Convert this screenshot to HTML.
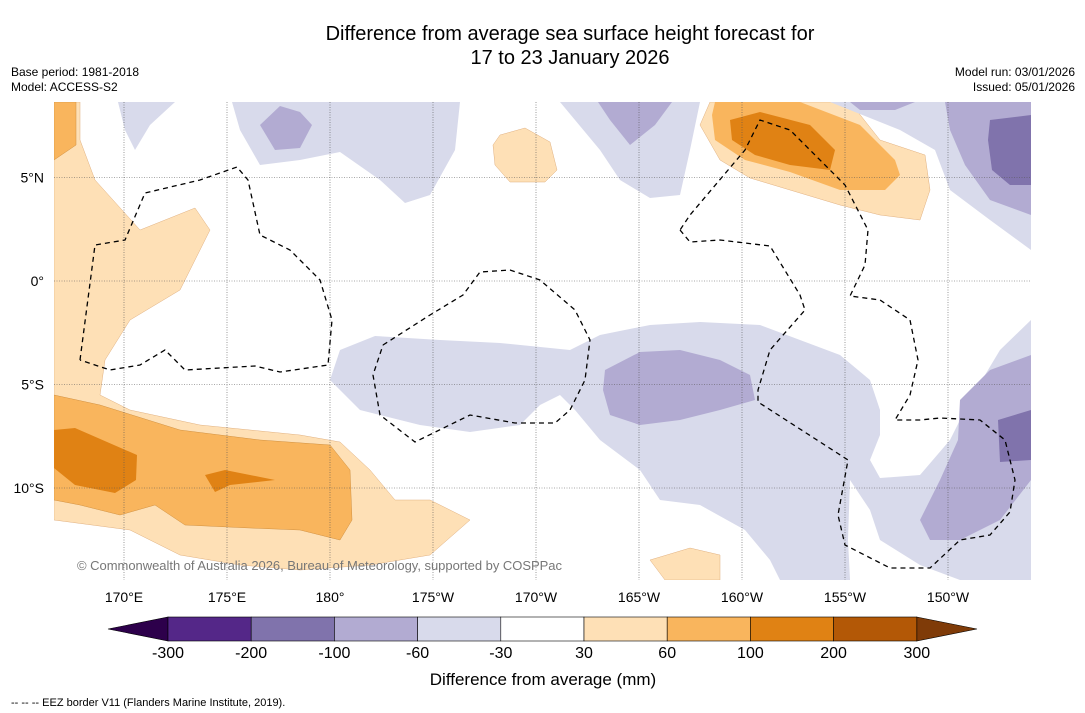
<!DOCTYPE html>
<html><head><meta charset="utf-8"><style>
body{margin:0;width:1085px;height:713px;background:#fff;font-family:"Liberation Sans","DejaVu Sans",sans-serif;overflow:hidden;position:relative}
.t{position:absolute;color:#000}
</style></head><body>
<div class="t" style="left:0;width:1140px;top:22px;text-align:center;font-size:20px;line-height:24px">Difference from average sea surface height forecast for<br>17 to 23 January 2026</div>
<div class="t" style="left:11px;top:65px;font-size:12px;line-height:15px">Base period: 1981-2018<br>Model: ACCESS-S2</div>
<div class="t" style="right:10px;top:65px;font-size:12px;line-height:15px;text-align:right">Model run: 03/01/2026<br>Issued: 05/01/2026</div>
<svg id="map" width="1085" height="713" style="position:absolute;left:0;top:0">
<defs><clipPath id="c"><rect x="54" y="102" width="977" height="478"/></clipPath></defs>
<g clip-path="url(#c)" stroke-width="0.5">
<polygon fill="#fee0b6" stroke="#e0b080" points="54,102 80,102 80,140 95,180 140,230 195,208 210,230 180,290 130,320 105,360 100,395 130,410 200,425 300,435 340,442 370,470 395,500 430,500 470,520 430,555 370,565 300,570 240,565 180,555 130,530 54,520"/>
<polygon fill="#f9b55d" stroke="#d09040" points="54,395 100,405 180,430 260,440 330,445 350,470 352,520 340,540 300,530 250,528 185,525 155,505 120,515 80,505 54,500"/>
<polygon fill="#f9b55d" stroke="#d09040" points="54,102 76,102 76,145 54,160"/>
<polygon fill="#e08214" points="54,430 75,428 137,455 136,480 115,493 75,485 54,468"/>
<polygon fill="#e08214" points="205,475 225,470 275,480 230,485 215,492"/>
<polygon fill="#d8daeb" points="118,102 175,102 150,125 135,150 125,130"/>
<polygon fill="#d8daeb" points="232,102 460,102 455,150 430,195 405,203 380,180 340,152 300,160 260,165 240,130"/>
<polygon fill="#b2abd2" points="260,125 280,106 300,112 312,125 300,148 275,150"/>
<polygon fill="#fee0b6" stroke="#e0b080" points="493,145 500,135 525,128 550,142 557,170 545,182 510,182 495,165"/>
<polygon fill="#d8daeb" points="560,102 700,102 690,150 680,195 650,198 620,180 600,150"/>
<polygon fill="#b2abd2" points="598,102 672,102 655,125 630,145 610,120"/>
<polygon fill="#fee0b6" stroke="#e0b080" points="710,102 850,102 880,140 925,155 930,190 920,220 880,215 840,205 790,190 750,178 720,160 700,125"/>
<polygon fill="#f9b55d" points="715,102 800,102 860,125 895,160 900,175 885,190 840,190 790,172 745,160 715,140 712,115"/>
<polygon fill="#e08214" points="730,120 760,112 810,125 835,150 830,170 790,165 755,155 732,140"/>
<polygon fill="#d8daeb" points="830,102 1031,102 1031,250 990,220 950,190 935,150 900,130 870,118"/>
<polygon fill="#b2abd2" points="945,102 1031,102 1031,215 990,200 965,165 950,130"/>
<polygon fill="#b2abd2" points="850,102 915,102 895,110 860,110"/>
<polygon fill="#8073ac" points="990,120 1031,115 1031,185 1010,185 992,170 988,140"/>
<polygon fill="#d8daeb" points="330,380 340,350 375,336 440,340 500,343 570,350 600,335 650,325 700,322 760,325 800,340 840,355 870,380 880,410 880,435 870,460 880,478 920,475 950,440 970,400 1000,350 1031,320 1031,580 960,580 920,565 880,540 870,510 850,480 848,540 850,580 800,580 780,560 770,520 740,500 710,480 700,455 740,445 780,450 790,470 800,540 810,580 780,580 770,560 745,530 700,505 660,500 640,470 600,440 575,410 560,395 540,405 520,425 470,432 420,425 360,410"/>
<polygon fill="#b2abd2" points="605,370 640,352 680,350 720,360 750,375 755,400 720,410 680,420 640,425 610,415 603,390"/>
<polygon fill="#b2abd2" points="920,520 940,480 958,440 960,400 990,370 1031,355 1031,480 1000,520 960,540 930,540"/>
<polygon fill="#8073ac" points="998,420 1031,410 1031,460 1000,462"/>
<polygon fill="#fee0b6" stroke="#e0b080" points="650,560 690,548 720,555 720,580 665,580"/>
</g>
<g id="grid" stroke="#555" stroke-width="0.6" stroke-dasharray="1,1.5" fill="none"></g>
<g fill="none" stroke="#000" stroke-width="1.3" stroke-dasharray="5,4" clip-path="url(#c)">
<polyline points="80,360 95,245 125,240 145,193 200,180 237,167 248,180 260,235 290,250 320,280 332,320 328,365 280,372 255,366 185,370 165,350 140,365 110,370 80,360"/>
<polyline points="383,345 430,315 463,295 480,272 510,270 540,280 575,310 590,340 585,380 570,410 555,423 515,423 470,415 415,442 380,415 373,375 383,345"/>
<polyline points="680,230 690,242 720,240 770,246 800,295 805,310 770,350 758,390 758,402 848,460 838,515 845,545 890,568 930,568 960,540 990,535 1010,512 1015,480 1005,440 980,420 940,418 920,420 895,420 910,395 918,360 910,320 880,300 850,296 865,265 868,230 845,185 790,130 760,120 745,150 690,215 680,230"/>
</g>
<text x="77" y="570" font-size="13" fill="#777" textLength="485">© Commonwealth of Australia 2026, Bureau of Meteorology, supported by COSPPac</text>
<g id="ticks" font-size="14" fill="#000"></g>
<g id="cbar"></g>
<text x="543" y="685" font-size="17" text-anchor="middle">Difference from average (mm)</text>
<text x="11" y="706" font-size="11">--  --  -- EEZ border V11 (Flanders Marine Institute, 2019).</text>
</svg>
<script>
const lonLabels=["170°E","175°E","180°","175°W","170°W","165°W","160°W","155°W","150°W"];
const lonVals=[170,175,180,185,190,195,200,205,210];
const latLabels=["5°N","0°","5°S","10°S"];
const latVals=[5,0,-5,-10];
const cbTicks=["-300","-200","-100","-60","-30","30","60","100","200","300"];
const cbColors=["#542788","#8073ac","#b2abd2","#d8daeb","#ffffff","#fee0b6","#f9b55d","#e08214","#b35806"];
const NS="http://www.w3.org/2000/svg";
const xLon=l=>124+(l-170)*20.6;
const yLat=a=>281-a*20.7;
const g=document.getElementById('grid'),tk=document.getElementById('ticks'),cb=document.getElementById('cbar');
function mk(tag,at,p){const e=document.createElementNS(NS,tag);for(const k in at)e.setAttribute(k,at[k]);p.appendChild(e);return e;}
lonVals.forEach((v,i)=>{const x=xLon(v);
const l=mk('line',{x1:x,x2:x,y1:102,y2:580},g);


const t=mk('text',{x:x,y:602,'text-anchor':'middle'},tk);t.textContent=lonLabels[i];

});
latVals.forEach((v,i)=>{const y=yLat(v);
const l=mk('line',{x1:54,x2:1031,y1:y,y2:y},g);


const t=mk('text',{x:44,y:y+5,'text-anchor':'end'},tk);t.textContent=latLabels[i];

});
const x0=168,w=83.2,y0=617,h=24;
const la=mk('polygon',{points:`108,629 ${x0},${y0} ${x0},${y0+h}`,fill:'#2d004b',stroke:'#000','stroke-width':0.6},cb);


const re=x0+w*cbColors.length;
const ra=mk('polygon',{points:`${re},${y0} 977,629 ${re},${y0+h}`,fill:'#7f3b08',stroke:'#000','stroke-width':0.6},cb);


cbColors.forEach((c,i)=>{const r=mk('rect',{x:x0+i*w,y:y0,width:w,height:h,fill:c,stroke:'#000','stroke-width':0.6},cb);

});
cbTicks.forEach((t,i)=>{const e=mk('text',{x:x0+i*w,y:658,'text-anchor':'middle','font-size':16},cb);e.textContent=t;

});
</script>
</body></html>
